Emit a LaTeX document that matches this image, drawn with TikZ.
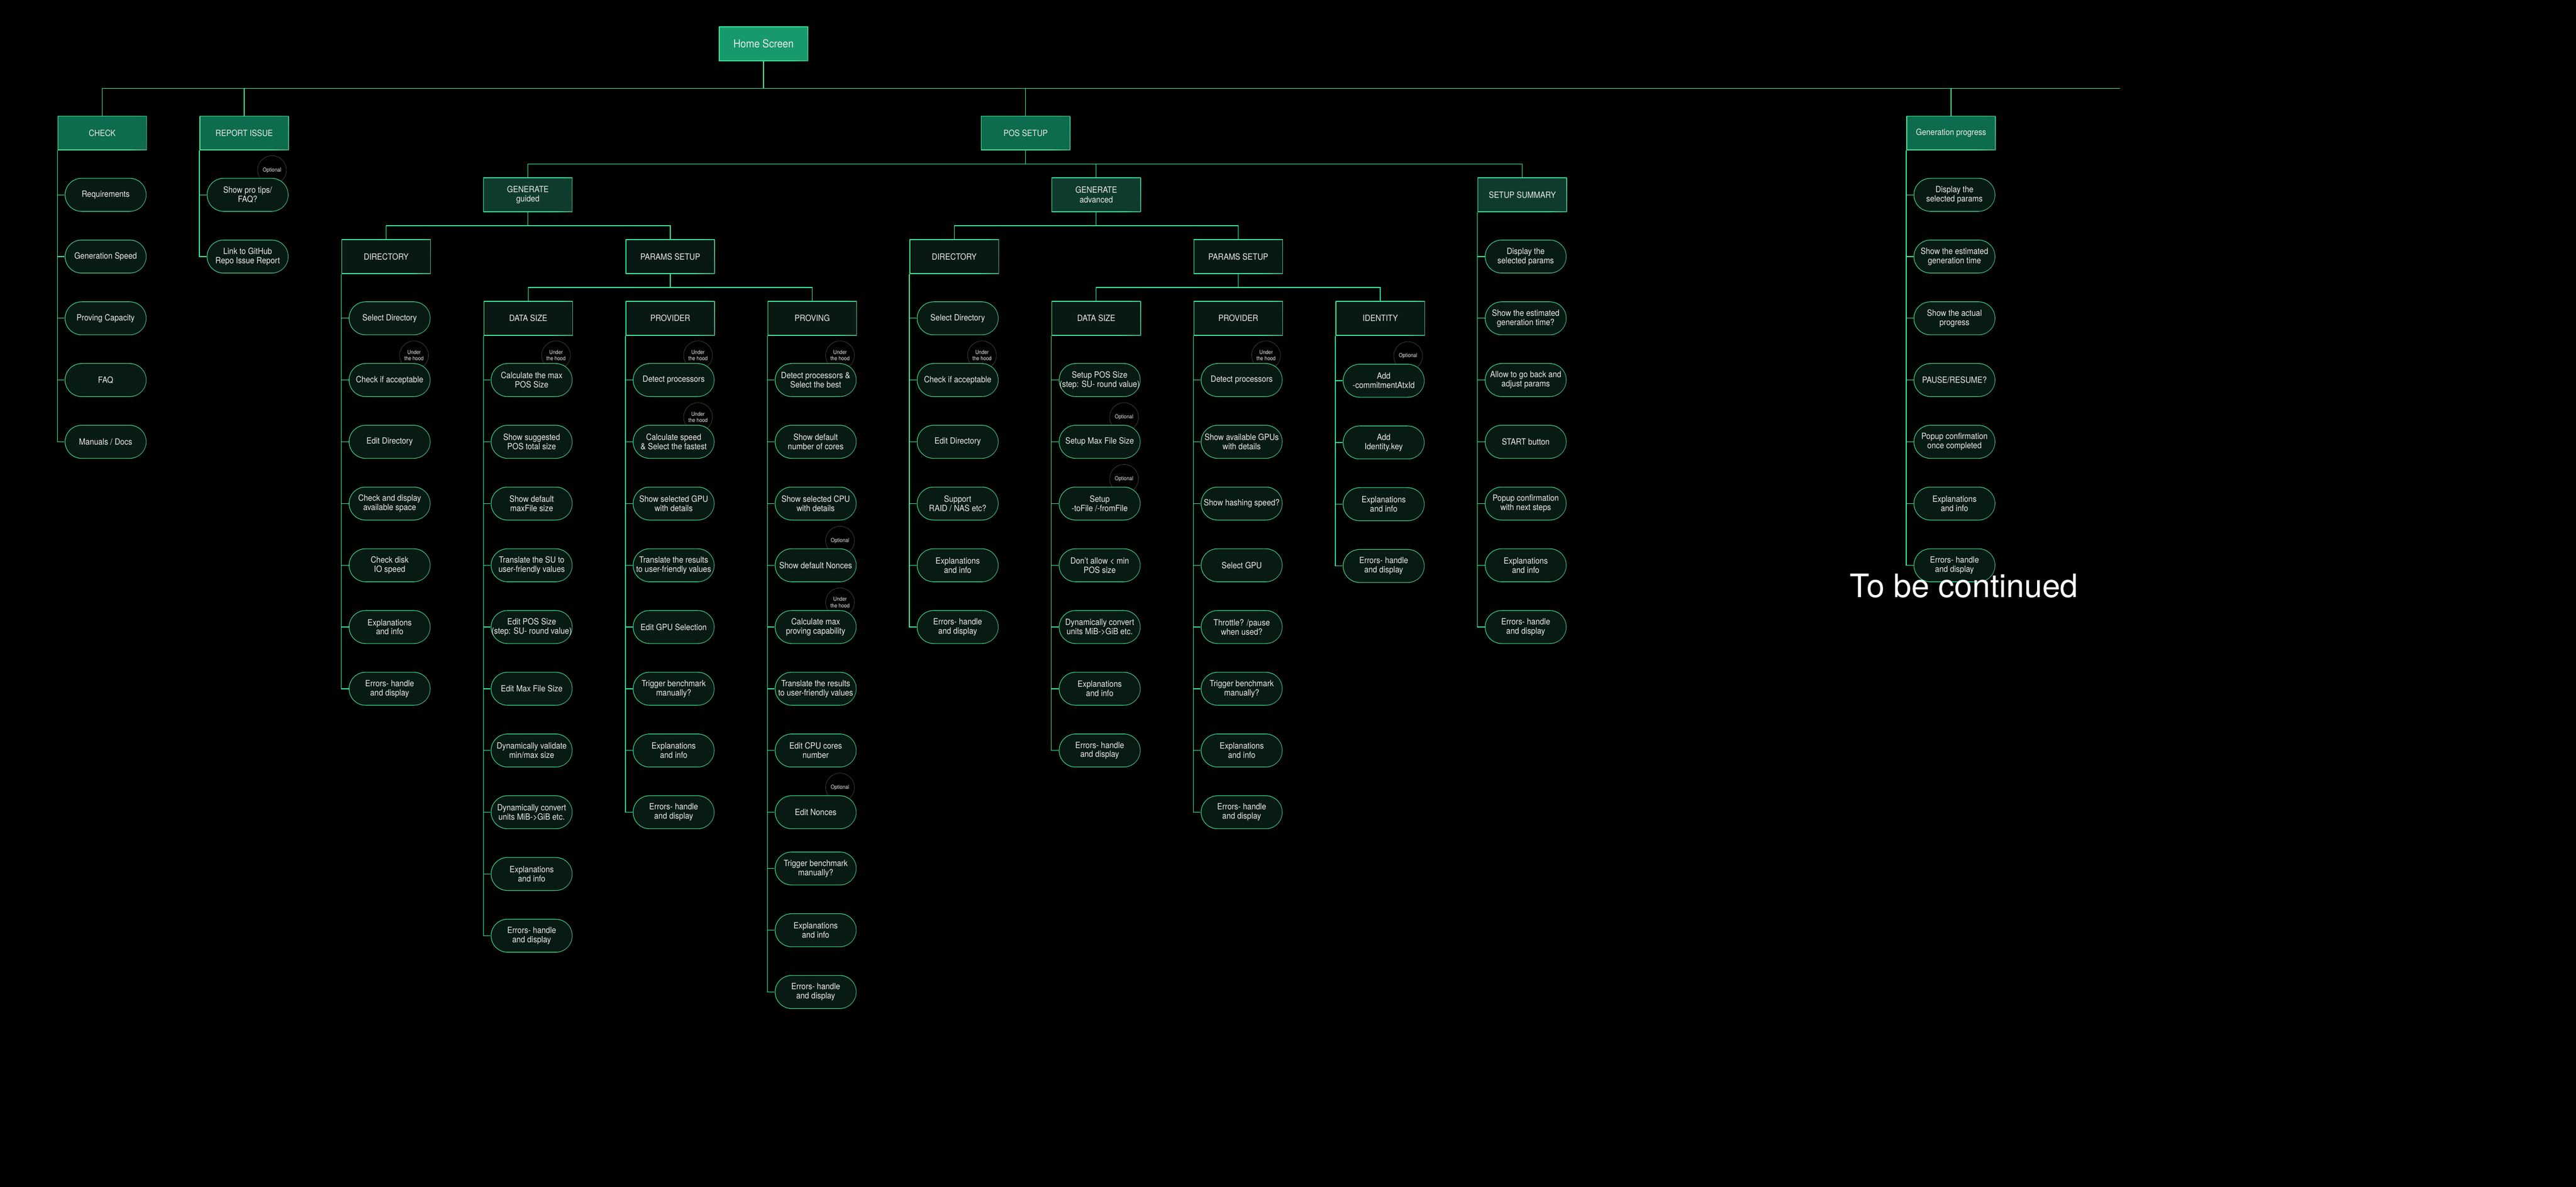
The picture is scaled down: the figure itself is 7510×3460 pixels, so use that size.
\documentclass[tikz,border=0pt]{standalone}
\usepackage{fontspec}
\setmainfont{TeX Gyre Heros}[FakeStretch=0.9]
\newfontfamily\tbcfont{TeX Gyre Heros}
\definecolor{lgreen}{RGB}{60,240,160}
\definecolor{bgrey}{RGB}{85,95,90}
\definecolor{homefill}{RGB}{24,153,107}
\definecolor{l1fill}{RGB}{13,107,78}
\definecolor{l2fill}{RGB}{15,59,46}
\definecolor{l3fill}{RGB}{8,24,19}
\definecolor{pillfill}{RGB}{7,26,20}
\definecolor{txt}{RGB}{236,236,236}
\definecolor{badgegrey}{RGB}{75,75,75}
\pgfdeclarehorizontalshading{bordshade}{100bp}{color(0bp)=(lgreen); color(68bp)=(lgreen); color(92bp)=(bgrey); color(100bp)=(bgrey)}
\pgfdeclarelayer{back}
\pgfdeclarelayer{bg}
\pgfsetlayers{back,bg,main}
\tikzset{
  gbox/.style={shape=rectangle, minimum width=65pt, minimum height=25pt, inner sep=0pt,
    align=center, text=txt, font=\fontsize{6.25pt}{7pt}\selectfont,
    shade, shading=bordshade, shading angle=-15,
    path picture={\fill[#1] ([shift={(0.43pt,0.43pt)}]path picture bounding box.south west)
      rectangle ([shift={(-0.43pt,-0.43pt)}]path picture bounding box.north east);}},
  homebox/.style={gbox=homefill, font=\fontsize{8pt}{9pt}\selectfont},
  lone/.style={gbox=l1fill},
  ltwo/.style={gbox=l2fill},
  lthree/.style={gbox=l3fill},
  pill/.style={shape=rectangle, rounded corners=12.25pt, minimum width=59.5pt, minimum height=24.5pt,
    inner sep=0pt, align=center, text=txt, font=\fontsize{6.25pt}{6.75pt}\selectfont,
    shade, shading=bordshade, shading angle=-15,
    path picture={\fill[pillfill, rounded corners=11.82pt] ([shift={(0.43pt,0.43pt)}]path picture bounding box.south west)
      rectangle ([shift={(-0.43pt,-0.43pt)}]path picture bounding box.north east);}},
  badge/.style={circle, minimum size=21pt, inner sep=0pt, draw=badgegrey, line width=0.25pt,
    fill=black, text=txt, align=center, font=\fontsize{4pt}{4.75pt}\selectfont},
  conn/.style={draw=lgreen, line width=0.48pt},
}
\begin{document}
\begin{tikzpicture}[x=0.25pt,y=-0.25pt]
\begin{pgfonlayer}{back}
\fill[black] (0,0) rectangle (7510,3460);
\end{pgfonlayer}
\useasboundingbox (0,0) rectangle (7510,3460);

% ---------- header boxes ----------
\node[homebox] (home) at (2226,128) {Home Screen};
\node[lone] (check) at (298,388) {CHECK};
\node[lone] (report) at (712,388) {REPORT ISSUE};
\node[lone] (pos) at (2990,388) {POS SETUP};
\node[lone] (genp) at (5688,388) {Generation progress};
\node[ltwo] (gg) at (1539,568) {GENERATE\\guided};
\node[ltwo] (ga) at (3196,568) {GENERATE\\advanced};
\node[ltwo] (setup) at (4438,568) {SETUP SUMMARY};
\node[lthree] (dirg) at (1126,748) {DIRECTORY};
\node[lthree] (parg) at (1954,748) {PARAMS SETUP};
\node[lthree] (dira) at (2782,748) {DIRECTORY};
\node[lthree] (para) at (3610,748) {PARAMS SETUP};
\node[lthree] (dsg) at (1540,928) {DATA SIZE};
\node[lthree] (provg) at (1954,928) {PROVIDER};
\node[lthree] (prov) at (2368,928) {PROVING};
\node[lthree] (dsa) at (3196,928) {DATA SIZE};
\node[lthree] (prova) at (3610,928) {PROVIDER};
\node[lthree] (ida) at (4024,928) {IDENTITY};

% ---------- CHECK ----------
\node[pill] (c1) at (308,568) {Requirements};
\node[pill] (c2) at (308,748) {Generation Speed};
\node[pill] (c3) at (308,928) {Proving Capacity};
\node[pill] (c4) at (308,1108) {FAQ};
\node[pill] (c5) at (308,1288) {Manuals / Docs};
% ---------- REPORT ISSUE ----------
\node[pill] (r1) at (722,568) {Show pro tips/\\FAQ?};
\node[pill] (r2) at (722,748) {Link to GitHub\\Repo Issue Report};
% ---------- DIRECTORY guided ----------
\node[pill] (d1) at (1136,928) {Select Directory};
\node[pill] (d2) at (1136,1108) {Check if acceptable};
\node[pill] (d3) at (1136,1288) {Edit Directory};
\node[pill] (d4) at (1136,1468) {Check and display\\available space};
\node[pill] (d5) at (1136,1648) {Check disk\\IO speed};
\node[pill] (d6) at (1136,1828) {Explanations\\and info};
\node[pill] (d7) at (1136,2008) {Errors- handle\\and display};
% ---------- DATA SIZE guided ----------
\node[pill] (s1) at (1550,1108) {Calculate the max\\POS Size};
\node[pill] (s2) at (1550,1288) {Show suggested\\POS total size};
\node[pill] (s3) at (1550,1468) {Show default\\maxFile size};
\node[pill] (s4) at (1550,1648) {Translate the SU to\\user-friendly values};
\node[pill] (s5) at (1550,1828) {Edit POS Size\\(step: SU- round value)};
\node[pill] (s6) at (1550,2008) {Edit Max File Size};
\node[pill] (s7) at (1550,2188) {Dynamically validate\\min/max size};
\node[pill] (s8) at (1550,2368) {Dynamically convert\\units MiB->GiB etc.};
\node[pill] (s9) at (1550,2548) {Explanations\\and info};
\node[pill] (s10) at (1550,2728) {Errors- handle\\and display};
% ---------- PROVIDER guided ----------
\node[pill] (p1) at (1964,1108) {Detect processors};
\node[pill] (p2) at (1964,1288) {Calculate speed\\\& Select the fastest};
\node[pill] (p3) at (1964,1468) {Show selected GPU\\with details};
\node[pill] (p4) at (1964,1648) {Translate the results\\to user-friendly values};
\node[pill] (p5) at (1964,1828) {Edit GPU Selection};
\node[pill] (p6) at (1964,2008) {Trigger benchmark\\manually?};
\node[pill] (p7) at (1964,2188) {Explanations\\and info};
\node[pill] (p8) at (1964,2368) {Errors- handle\\and display};
% ---------- PROVING ----------
\node[pill] (v1) at (2378,1108) {Detect processors \&\\Select the best};
\node[pill] (v2) at (2378,1288) {Show default\\number of cores};
\node[pill] (v3) at (2378,1468) {Show selected CPU\\with details};
\node[pill] (v4) at (2378,1648) {Show default Nonces};
\node[pill] (v5) at (2378,1828) {Calculate max\\proving capability};
\node[pill] (v6) at (2378,2008) {Translate the results\\to user-friendly values};
\node[pill] (v7) at (2378,2188) {Edit CPU cores\\number};
\node[pill] (v8) at (2378,2368) {Edit Nonces};
\node[pill] (v9) at (2378,2532) {Trigger benchmark\\manually?};
\node[pill] (v10) at (2378,2712) {Explanations\\and info};
\node[pill] (v11) at (2378,2892) {Errors- handle\\and display};
% ---------- DIRECTORY advanced ----------
\node[pill] (a1) at (2792,928) {Select Directory};
\node[pill] (a2) at (2792,1108) {Check if acceptable};
\node[pill] (a3) at (2792,1288) {Edit Directory};
\node[pill] (a4) at (2792,1468) {Support\\RAID / NAS etc?};
\node[pill] (a5) at (2792,1648) {Explanations\\and info};
\node[pill] (a6) at (2792,1828) {Errors- handle\\and display};
% ---------- DATA SIZE advanced ----------
\node[pill] (e1) at (3206,1108) {Setup POS Size\\(step: SU- round value)};
\node[pill] (e2) at (3206,1288) {Setup Max File Size};
\node[pill] (e3) at (3206,1468) {Setup\\-toFile /-fromFile};
\node[pill] (e4) at (3206,1648) {Don't allow < min\\POS size};
\node[pill] (e5) at (3206,1828) {Dynamically convert\\units MiB->GiB etc.};
\node[pill] (e6) at (3206,2008) {Explanations\\and info};
\node[pill] (e7) at (3206,2188) {Errors- handle\\and display};
% ---------- PROVIDER advanced ----------
\node[pill] (f1) at (3620,1108) {Detect processors};
\node[pill] (f2) at (3620,1288) {Show available GPUs\\with details};
\node[pill] (f3) at (3620,1468) {Show hashing speed?};
\node[pill] (f4) at (3620,1648) {Select GPU};
\node[pill] (f5) at (3620,1828) {Throttle? /pause\\when used?};
\node[pill] (f6) at (3620,2008) {Trigger benchmark\\manually?};
\node[pill] (f7) at (3620,2188) {Explanations\\and info};
\node[pill] (f8) at (3620,2368) {Errors- handle\\and display};
% ---------- IDENTITY ----------
\node[pill] (i1) at (4034,1110) {Add\\-commitmentAtxId};
\node[pill] (i2) at (4034,1290) {Add\\Identity.key};
\node[pill] (i3) at (4034,1470) {Explanations\\and info};
\node[pill] (i4) at (4034,1650) {Errors- handle\\and display};
% ---------- SETUP SUMMARY ----------
\node[pill] (u1) at (4448,748) {Display the\\selected params};
\node[pill] (u2) at (4448,928) {Show the estimated\\generation time?};
\node[pill] (u3) at (4448,1108) {Allow to go back and\\adjust params};
\node[pill] (u4) at (4448,1288) {START button};
\node[pill] (u5) at (4448,1468) {Popup confirmation\\with next steps};
\node[pill] (u6) at (4448,1648) {Explanations\\and info};
\node[pill] (u7) at (4448,1828) {Errors- handle\\and display};
% ---------- Generation progress ----------
\node[pill] (g1) at (5698,568) {Display the\\selected params};
\node[pill] (g2) at (5698,748) {Show the estimated\\generation time};
\node[pill] (g3) at (5698,928) {Show the actual\\progress};
\node[pill] (g4) at (5698,1108) {PAUSE/RESUME?};
\node[pill] (g5) at (5698,1288) {Popup confirmation\\once completed};
\node[pill] (g6) at (5698,1468) {Explanations\\and info};
\node[pill] (g7) at (5698,1648) {Errors- handle\\and display};

\node[font=\tbcfont\fontsize{23.5pt}{26pt}\selectfont, text=white, anchor=base west, inner sep=0pt] (tbc) at (5392,1741) {To be continued};

\begin{pgfonlayer}{bg}
% badges
\node[badge] (bo1) at ([shift={(71,-72)}]r1.center) {Optional};
\node[badge] (bo2) at ([shift={(71,-72)}]v4.center) {Optional};
\node[badge] (bo3) at ([shift={(71,-72)}]v8.center) {Optional};
\node[badge] (bo4) at ([shift={(71,-72)}]e2.center) {Optional};
\node[badge] (bo5) at ([shift={(71,-72)}]e3.center) {Optional};
\node[badge] (bo6) at ([shift={(71,-72)}]i1.center) {Optional};
\node[badge] (bu1) at ([shift={(71,-72)}]d2.center) {Under\\the hood};
\node[badge] (bu2) at ([shift={(71,-72)}]s1.center) {Under\\the hood};
\node[badge] (bu3) at ([shift={(71,-72)}]p1.center) {Under\\the hood};
\node[badge] (bu4) at ([shift={(71,-72)}]p2.center) {Under\\the hood};
\node[badge] (bu5) at ([shift={(71,-72)}]v1.center) {Under\\the hood};
\node[badge] (bu6) at ([shift={(71,-72)}]v5.center) {Under\\the hood};
\node[badge] (bu7) at ([shift={(71,-72)}]a2.center) {Under\\the hood};
\node[badge] (bu8) at ([shift={(71,-72)}]f1.center) {Under\\the hood};

% buses
\coordinate (busA) at (6180,258);
\draw[conn] (check.north) |- (busA);
\draw[conn] (home.south) -- (home.south |- busA);
\draw[conn] (report.north) -- (report.north |- busA);
\draw[conn] (pos.north) -- (pos.north |- busA);
\draw[conn] (genp.north) -- (genp.north |- busA);

\coordinate (busB) at (4438,478);
\draw[conn] (gg.north) |- (busB) -- (setup.north);
\draw[conn] (pos.south) -- (pos.south |- busB);
\draw[conn] (ga.north) -- (ga.north |- busB);

\coordinate (busCg) at (1954,658);
\draw[conn] (dirg.north) |- (busCg) -- (parg.north);
\draw[conn] (gg.south) -- (gg.south |- busCg);
\coordinate (busCa) at (3610,658);
\draw[conn] (dira.north) |- (busCa) -- (para.north);
\draw[conn] (ga.south) -- (ga.south |- busCa);

\coordinate (busDg) at (2368,838);
\draw[conn] (dsg.north) |- (busDg) -- (prov.north);
\draw[conn] (parg.south) -- (parg.south |- busDg);
\coordinate (busDa) at (4024,838);
\draw[conn] (dsa.north) |- (busDa) -- (ida.north);
\draw[conn] (para.south) -- (para.south |- busDa);

% leaves
\foreach \n in {c1,c2,c3,c4,c5} \draw[conn] (check.south west) |- (\n.west);
\foreach \n in {r1,r2} \draw[conn] (report.south west) |- (\n.west);
\foreach \n in {d1,d2,d3,d4,d5,d6,d7} \draw[conn] (dirg.south west) |- (\n.west);
\foreach \n in {s1,s2,s3,s4,s5,s6,s7,s8,s9,s10} \draw[conn] (dsg.south west) |- (\n.west);
\foreach \n in {p1,p2,p3,p4,p5,p6,p7,p8} \draw[conn] (provg.south west) |- (\n.west);
\foreach \n in {v1,v2,v3,v4,v5,v6,v7,v8,v9,v10,v11} \draw[conn] (prov.south west) |- (\n.west);
\foreach \n in {a1,a2,a3,a4,a5,a6} \draw[conn] (dira.south west) |- (\n.west);
\foreach \n in {e1,e2,e3,e4,e5,e6,e7} \draw[conn] (dsa.south west) |- (\n.west);
\foreach \n in {f1,f2,f3,f4,f5,f6,f7,f8} \draw[conn] (prova.south west) |- (\n.west);
\foreach \n in {i1,i2,i3,i4} \draw[conn] (ida.south west) |- (\n.west);
\foreach \n in {u1,u2,u3,u4,u5,u6,u7} \draw[conn] (setup.south west) |- (\n.west);
\foreach \n in {g1,g2,g3,g4,g5,g6,g7} \draw[conn] (genp.south west) |- (\n.west);
\end{pgfonlayer}
\end{tikzpicture}
\end{document}
